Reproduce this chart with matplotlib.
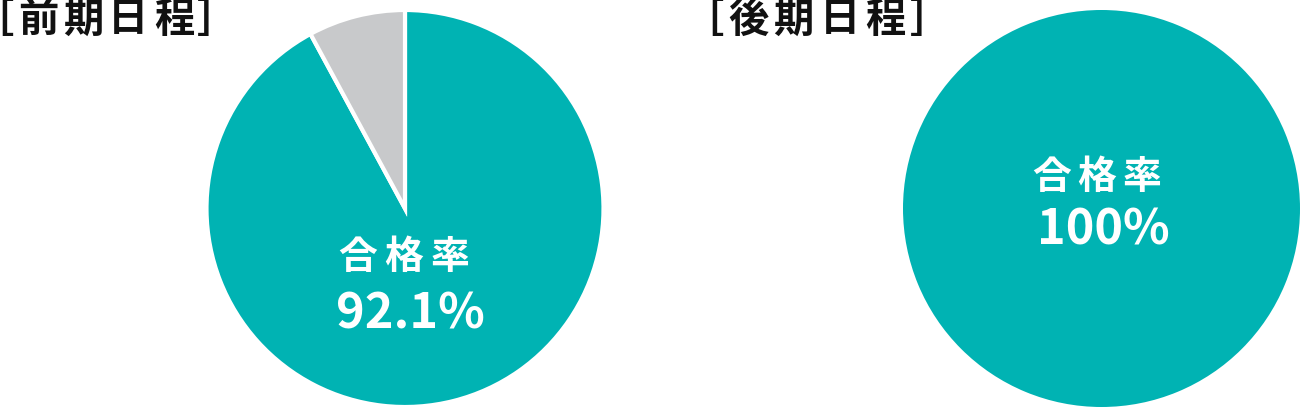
import matplotlib
matplotlib.use('Agg')
import matplotlib.pyplot as plt

plt.rcParams['font.family'] = ['Noto Sans CJK JP', 'DejaVu Sans']

# data
titles = ['［前期日程］', '［後期日程］']
pass_rates = [92.1, 100.0]
rate_labels = ['92.1%', '100%']
caption = '合格率'

teal = '#00b3b3'
grey = '#c8c9cb'

W, H = 1300, 407
fig = plt.figure(figsize=(W / 100, H / 100), dpi=100)


def px(x, y):
    # pixel position (from top-left) -> figure fraction
    return x / W, 1 - y / H


def spaced(text, xs, y, **kw):
    # CJK text with wide letter spacing: one glyph per given x centre
    for ch, x in zip(text, xs):
        fig.text(*px(x, y), ch, ha='center', va='center', **kw)


# pie axes placed in pixel terms of the canvas
boxes = [(206, 604), (903, 1300)]
for i, (x0, x1) in enumerate(boxes):
    ax = fig.add_axes([x0 / W, 0, (x1 - x0) / W, 397 / H])
    rate = pass_rates[i]
    vals = [rate, 100 - rate] if rate < 100 else [rate]
    cols = [teal, grey][:len(vals)]
    ax.pie(vals, colors=cols, startangle=90, counterclock=False, radius=1,
           wedgeprops=dict(edgecolor='white', linewidth=3 if len(vals) > 1 else 0))
    ax.set_xlim(-1, 1)
    ax.set_ylim(-1, 1)
    ax.set_aspect('equal')
    ax.axis('off')

# labels inside the pies
spaced(caption, [358, 404, 450], 257, color='white', fontsize=28, fontweight='bold')
fig.text(*px(410, 314), rate_labels[0], ha='center', va='center', color='white',
         fontsize=35, fontweight='bold')
spaced(caption, [1052, 1097, 1142], 177, color='white', fontsize=28, fontweight='bold')
fig.text(*px(1103, 230), rate_labels[1], ha='center', va='center', color='white',
         fontsize=35, fontweight='bold')

# titles (bracket glyphs sit off-centre in their cells, hence the odd x's)
spaced(titles[0], [-7, 38, 83, 128, 174, 217], 20,
       fontsize=29, fontweight='bold', color='#111111')
spaced(titles[1], [703, 748, 793, 840, 885, 930], 20,
       fontsize=29, fontweight='bold', color='#111111')

fig.savefig('out.png', dpi=100)
